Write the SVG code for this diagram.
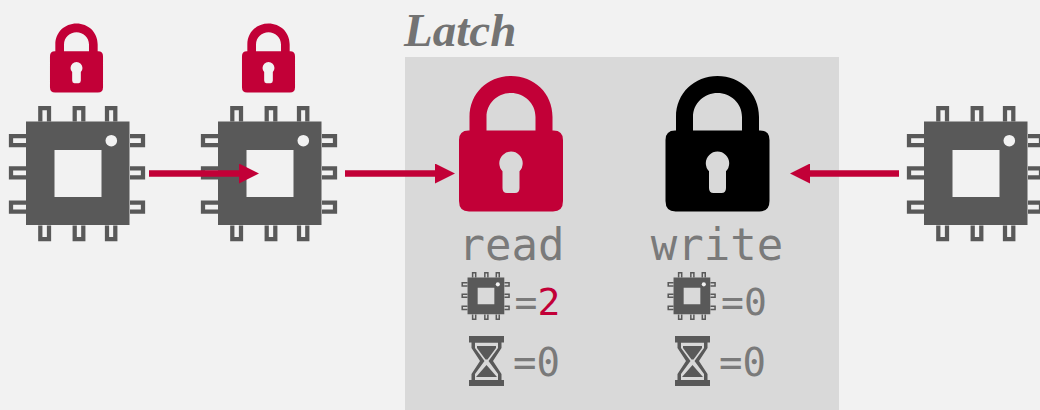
<svg xmlns="http://www.w3.org/2000/svg" width="1040" height="410" viewBox="0 0 1040 410">
<style>
.mono{font-family:"DejaVu Sans Mono","Liberation Mono",monospace;fill:#7a7a7a}
.lbl{font-size:44px;text-anchor:middle}
.val{font-size:38px}
.val2{font-size:39px}
.red{fill:#c20037}
.conn{stroke:#c20037;stroke-width:6.500;fill:none;marker-end:url(#arr)}
</style>
<defs>
<marker id="arr" markerUnits="userSpaceOnUse" markerWidth="20" markerHeight="20" refX="6" refY="10" orient="auto"><path d="M0 0L20 10L0 20Z" fill="#c20037"/></marker>
<g id="chip">
<path d="M-52-52H51.500V51.500H-52ZM-23.500-23.500V23.500H23.500V-23.500Z" fill="#595959" fill-rule="evenodd"/>
<circle cx="33.300" cy="-32.800" r="5.800" fill="#f2f2f2"/>
<g fill="none" stroke="#595959" stroke-width="4.250">
<path d="M-37.700-52V-65.500H-29V-52M-3.300-52V-65.500H5.300V-52M29-52V-65.500H37.300V-52"/>
<path d="M-37.700 52V65.500H-29V52M-3.300 52V65.500H5.300V52M29 52V65.500H37.300V52"/>
<path d="M-52-37.500H-67V-28.500H-52M-52-5.200H-67V3.800H-52M-52 29.200H-67V38.200H-52"/>
<path d="M52-37.500H65V-28.500H52M52-5.200H65V3.800H52M52 29.200H65V38.200H52"/>
</g>
</g>
<path id="lock" fill-rule="evenodd" d="M-41.500 54.500V41C-41.500 17-23 0 0 0S41.500 17 41.500 41V54.500H42.500Q52 54.500 52 64V125Q52 135.500 42 135.500H-42Q-52 135.500-52 125V64Q-52 54.500-42.500 54.500ZM-24.500 54.500H24.500V41C24.500 27 13 17 0 17S-24.500 27-24.500 41ZM-8.500 95.300V112Q-8.500 117-4 117H4Q8.500 117 8.500 112V95.300A11.700 11.700 0 1 0-8.500 95.300Z"/>
<g id="glass" fill="#595959">
<rect x="-17.500" y="0" width="35" height="6.500"/>
<rect x="-17.500" y="44" width="35" height="6"/>
<path fill-rule="evenodd" d="M-15 6H15V12L6.500 25L15 38V45H-15V38L-6.500 25L-15 12ZM-11.500 6.500V12L-2 25L-11.500 38V44.500H11.500V38L2 25L11.500 12V6.500Z"/>
<path d="M-9.500 10H9.500V12L1 23.500H-1L-9.500 12ZM0 29L10.500 41H-10.500Z"/>
</g>
</defs>
<rect width="1040" height="410" fill="#f2f2f2"/>
<rect id="latch-box" x="405" y="57" width="434" height="353" fill="#d9d9d9"/>
<g id="latch-title"><text x="404" y="45.500" font-family="'Liberation Serif',serif" font-weight="bold" font-style="italic" font-size="47" fill="#737373">Latch</text></g>
<g id="worker-1"><use href="#lock" transform="translate(76.500 23.500) scale(.51)" fill="#c20037"/><use href="#chip" transform="translate(78 173.500)"/></g>
<g id="worker-2"><use href="#lock" transform="translate(268.500 23.500) scale(.51)" fill="#c20037"/><use href="#chip" transform="translate(270 173.500)"/></g>
<g id="worker-3"><use href="#chip" transform="translate(976 173.500)"/></g>
<g id="read-lock"><use href="#lock" transform="translate(511 76)" fill="#c20037"/>
<text class="mono lbl" x="511.500" y="260">read</text>
<use href="#chip" transform="translate(486 296) scale(.355)"/>
<text class="mono val" x="514.500" y="315">=<tspan class="red">2</tspan></text>
<use href="#glass" transform="translate(486.500 336)"/>
<text class="mono val2" x="513" y="375.500">=0</text></g>
<g id="write-lock"><use href="#lock" transform="translate(717.500 76)" fill="#000"/>
<text class="mono lbl" x="717" y="260">write</text>
<use href="#chip" transform="translate(692 296) scale(.355)"/>
<text class="mono val" x="721" y="315">=0</text>
<use href="#glass" transform="translate(692.500 336)"/>
<text class="mono val2" x="719" y="375.500">=0</text></g>
<g id="connectors">
<path class="conn" d="M149 173.500H245"/>
<path class="conn" d="M345 173.500H441"/>
<path class="conn" d="M899 173.500H804"/>
</g>
</svg>
